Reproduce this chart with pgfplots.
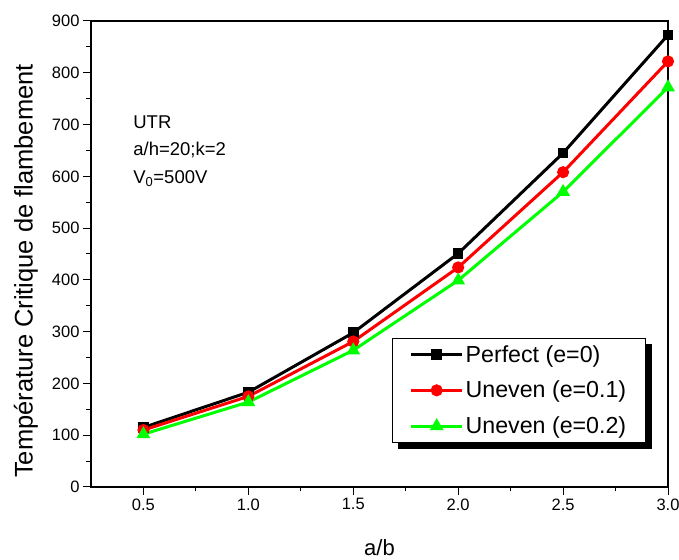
\documentclass[border=0pt]{standalone}
\usepackage{pgfplots}
\pgfplotsset{compat=1.18}
\usepackage{fontspec}
\setmainfont{Liberation Sans}
\definecolor{mygreen}{RGB}{0,255,0}
\definecolor{myred}{RGB}{255,0,0}
\pgfdeclarelayer{background}
\pgfsetlayers{background,main}
\begin{document}
\begin{tikzpicture}
\begin{axis}[
  name=ax,
  scale only axis,
  width=577pt, height=466pt,
  xmin=0.25, xmax=3.0, ymin=0, ymax=900,
  xtick={0.5,1.0,1.5,2.0,2.5,3.0},
  ytick={0,100,...,900},
  minor x tick num=1, minor y tick num=1,
  tick align=outside, xtick pos=bottom, ytick pos=left,
  major tick length=8pt, minor tick length=4.5pt,
  tick style={black, line width=1pt},
  axis line style={line width=1.2pt},
  /pgf/number format/assume math mode=true,
  x tick label style={font=\fontsize{16.5}{19}\selectfont, /pgf/number format/.cd, fixed, fixed zerofill, precision=1},
  y tick label style={font=\fontsize{16.5}{19}\selectfont},
  xlabel={a/b}, ylabel={Température Critique de flambement},
  xlabel style={font=\fontsize{22}{26}\selectfont, at={(axis description cs:0.5,-0.131)}, anchor=center},
  ylabel style={font=\fontsize{25.5}{29}\selectfont, at={(axis description cs:-0.1127,0.4635)}, anchor=center},
  legend style={name=leg, at={(0.522,0.320)}, anchor=north west, draw=black, fill=white, line width=1pt,
    font=\fontsize{23.2}{27}\selectfont,
    row sep=13.5pt, inner xsep=17pt, inner ysep=5pt},
  legend cell align=left,
  every odd column/.append style={column sep=5pt},
  legend image code/.code={\draw[mark repeat=2, mark phase=2, line width=3pt] plot coordinates {(0pt,0pt) (25.5pt,0pt) (51pt,0pt)};},
]
\addplot[black, line width=3pt, mark=square*, mark size=3.8pt] coordinates {
(0.5,115) (1.0,183) (1.5,298) (2.0,451) (2.5,645) (3.0,873)};
\addlegendentry{Perfect (e=0)}
\addplot[myred, line width=3pt, mark=*, mark size=4.5pt] coordinates {
(0.5,110) (1.0,175) (1.5,281) (2.0,424) (2.5,608) (3.0,822)};
\addlegendentry{Uneven (e=0.1)}
\addplot[mygreen, line width=3pt, mark=triangle*, mark size=5pt] coordinates {
(0.5,102) (1.0,164) (1.5,264) (2.0,399) (2.5,570) (3.0,772)};
\addlegendentry{Uneven (e=0.2)}
\node[anchor=base west, font=\fontsize{18.5}{27.5}\selectfont, inner sep=0pt] at (axis cs:0.451,692) {UTR};
\node[anchor=base west, font=\fontsize{18.5}{27.5}\selectfont, inner sep=0pt] at (axis cs:0.451,640) {a/h=20;k=2};
\node[anchor=base west, font=\fontsize{18.5}{27.5}\selectfont, inner sep=0pt] at (axis cs:0.451,586) {V\textsubscript{0}=500V};
\end{axis}
\begin{pgfonlayer}{background}
\fill[black] ([shift={(6pt,-6pt)}]leg.south west) rectangle ([shift={(6pt,-6pt)}]leg.north east);
\end{pgfonlayer}
\pgfresetboundingbox
\path[use as bounding box] ([shift={(-91pt,-73pt)}]ax.south west) rectangle ([shift={(11pt,21pt)}]ax.north east);
\end{tikzpicture}
\end{document}
